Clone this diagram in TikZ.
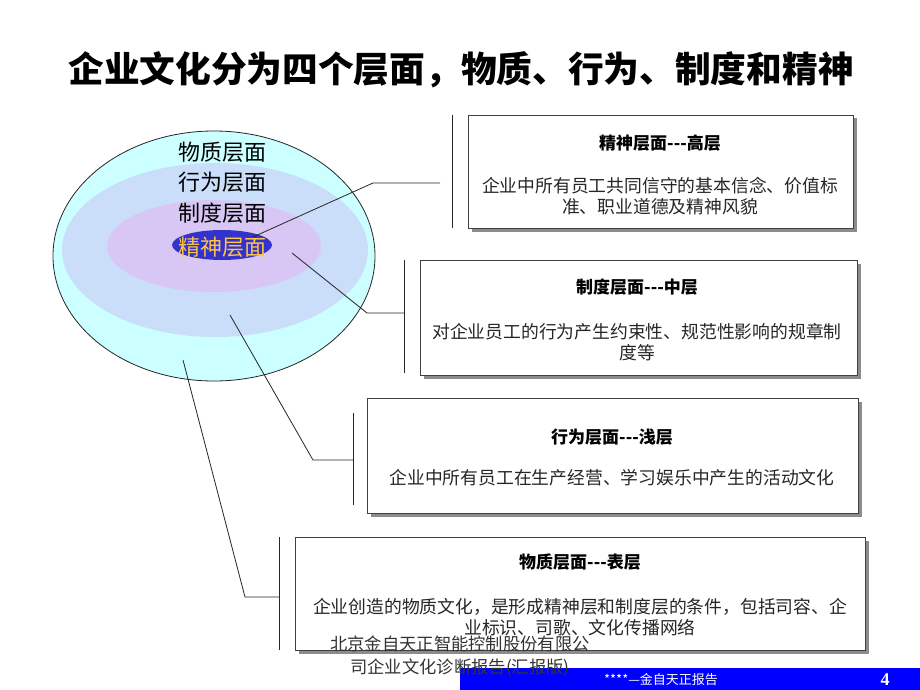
\documentclass[tikz,border=0pt]{standalone}
\usepackage{fontspec}
\setmainfont{Liberation Serif}
\newfontfamily\cjk{Noto Sans CJK SC}
\usetikzlibrary{shapes.geometric,shadows}
\definecolor{outercyan}{RGB}{204,255,255}
\definecolor{midlayer}{RGB}{202,222,250}
\definecolor{innerpink}{RGB}{216,198,244}
\definecolor{coreblue}{RGB}{51,51,204}
\definecolor{coretext}{RGB}{255,196,70}
\definecolor{barblue}{RGB}{0,0,255}
\begin{document}
\begin{tikzpicture}[x=1pt,y=-1pt,
  layer/.style={ellipse, inner sep=0pt, draw=none},
  infobox/.style={draw=black!75, line width=1pt, fill=white, anchor=north west, inner sep=0pt,
    drop shadow={shadow xshift=3pt, shadow yshift=-3pt, fill=black!45, opacity=1}},
  boxtitle/.style={font=\cjk\bfseries\fontsize{17}{20}\selectfont, inner sep=0pt},
  boxbody/.style={font=\cjk\fontsize{17.8}{21}\selectfont, text=black!85, align=center, inner sep=0pt},
  ringlabel/.style={font=\cjk\fontsize{22}{25}\selectfont, inner sep=0pt},
  conn/.style={draw=black!85, line width=0.8pt},
  bracket/.style={draw=black!85, line width=1pt}]
\useasboundingbox (0,0) rectangle (920,690);
\fill[white] (0,0) rectangle (920,690);

% title
\node[font=\cjk\bfseries\fontsize{35.7}{40}\selectfont, inner sep=0pt] (title) at (461,70) {企业文化分为四个层面，物质、行为、制度和精神};

% nested ellipses
\node[layer, draw=black!85, line width=0.8pt, fill=outercyan, minimum width=322pt, minimum height=250pt] (outer) at (214,256) {};
\node[layer, fill=midlayer, minimum width=306pt, minimum height=174pt] (middle) at (215,250) {};
\node[layer, fill=innerpink, minimum width=214pt, minimum height=92pt] (inner) at (214,246) {};
\node[layer, fill=coreblue, minimum width=100pt, minimum height=30pt] (core) at (222,245) {};

\node[ringlabel] (l1) at (222,152) {物质层面};
\node[ringlabel] (l2) at (222,182) {行为层面};
\node[ringlabel] (l3) at (222,213) {制度层面};
\node[ringlabel, text=coretext] (l4) at (222,247) {精神层面};

% boxes
\node[infobox, minimum width=385pt, minimum height=113pt] (b1) at (468,115) {};
\node[infobox, minimum width=437pt, minimum height=115pt] (b2) at (420,260) {};
\node[infobox, minimum width=491pt, minimum height=115pt] (b3) at (367,398) {};
\node[infobox, minimum width=570pt, minimum height=113pt] (b4) at (295,537) {};

\node[boxtitle] (t1) at (660,143) {精神层面---高层};
\node[boxbody] (d1) at (660,196) {企业中所有员工共同信守的基本信念、价值标\\准、职业道德及精神风貌};
\node[boxtitle] (t2) at (637,287) {制度层面---中层};
\node[boxbody] (d2) at (637,342) {对企业员工的行为产生约束性、规范性影响的规章制\\度等};
\node[boxtitle] (t3) at (612,437) {行为层面---浅层};
\node[boxbody] (d3) at (612,478) {企业中所有员工在生产经营、学习娱乐中产生的活动文化};
\node[boxtitle] (t4) at (580,562) {物质层面---表层};
\node[boxbody] (d4) at (580,617) {企业创造的物质文化，是形成精神层和制度层的条件，包括司容、企\\业标识、司歌、文化传播网络};

% brackets
\coordinate (q1a) at (452,115); \coordinate (q1b) at (452,228);
\coordinate (q2a) at (404,260); \coordinate (q2b) at (404,373);
\coordinate (q3a) at (353,413); \coordinate (q3b) at (353,505);
\coordinate (q4a) at (279,537); \coordinate (q4b) at (279,650);
\draw[bracket] (q1a) -- (q1b);
\draw[bracket] (q2a) -- (q2b);
\draw[bracket] (q3a) -- (q3b);
\draw[bracket] (q4a) -- (q4b);

% connectors
\coordinate (p1) at (253,237); \coordinate (k1) at (373,183); \coordinate (e1) at (440,183);
\coordinate (p2) at (292,253); \coordinate (k2) at (367,313); \coordinate (e2) at (404,313);
\coordinate (p3) at (230,315); \coordinate (k3) at (313,460); \coordinate (e3) at (353,460);
\coordinate (p4) at (183,360); \coordinate (k4) at (245,597); \coordinate (e4) at (279,597);
\draw[conn] (p1) -- (k1) -- (e1);
\draw[conn] (p2) -- (k2) -- (e2);
\draw[conn] (p3) -- (k3) -- (e3);
\draw[conn] (p4) -- (k4) -- (e4);

% footer
\node[fill=barblue, anchor=north west, minimum width=460pt, minimum height=22pt, inner sep=0pt] (bar) at (460,668) {};
\node[font=\cjk\fontsize{13}{15}\selectfont, text=white, inner sep=0pt] (bartext) at (661,680) {****—金自天正报告};
\node[font=\bfseries\fontsize{18}{20}\selectfont, text=white, inner sep=0pt] (pagenum) at (885,680) {4};
\node[font=\cjk\fontsize{17.3}{23}\selectfont, text=black!80, align=center, inner sep=0pt] (foot) at (460,656) {北京金自天正智能控制股份有限公\\司企业文化诊断报告(汇报版)};
\end{tikzpicture}
\end{document}
